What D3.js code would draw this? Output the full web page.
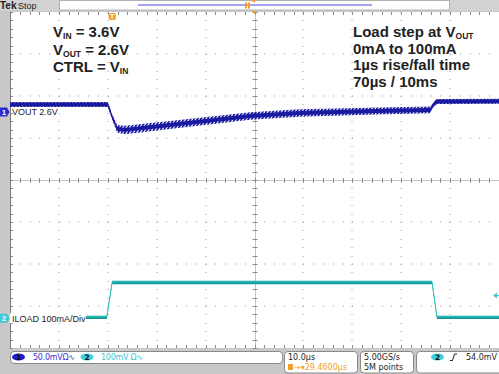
<!DOCTYPE html>
<html>
<head>
<meta charset="utf-8">
<script src="https://cdn.jsdelivr.net/npm/d3@7/dist/d3.min.js"></script>
<style>
  body { margin: 0; background: #c8c8c8; }
  svg { display: block; }
</style>
</head>
<body>
<div id="scope"></div>
<script>
// time base 10 us/div, 10 divisions
const timeDomain = [0, 100];
// vertical divisions
const divDomain = [-4, 4];

// CH1: VOUT, mV relative to the 2.6V marker (50 mV/div)
const voutTime   = [0, 20.0, 20.9, 21.9, 23.5, 32.7, 49.1, 59.3, 75.0, 85.9, 86.5, 87.3, 100];
const voutMean   = [8.9, 8.9, -6, -20, -21.4, -15.5, -4.8, -1.2, 1.2, 2.4, 8, 12.5, 12.8];
const voutRipple = [3.0, 3.0, 3.4, 4.6, 5.0, 4.8, 4.6, 4.4, 4.2, 4.0, 3.4, 3.0, 3.0];

// CH2: ILOAD, mA (100 mA/div)
const iloadTime = [0, 19.8, 20.9, 86.3, 87.3, 100];
const iloadMA   = [2, 2, 85, 85, 2, 2];

// channel marker positions (div) and trigger
const ch1Pos = 1.62;
const ch2Pos = -3.29;
const trigTime = 20.9;
const trigLevel = 54; // mV on ch2

const W = 499, H = 374;
const plot = {left: 10, right: 499, top: 12, bottom: 348};

const svg = d3.select("#scope").append("svg")
  .attr("width", W).attr("height", H)
  .style("font-family", "'Liberation Sans', Arial, sans-serif");

svg.append("rect").attr("width", W).attr("height", H).attr("fill", "#c8c8c8");
svg.append("rect")
  .attr("x", plot.left).attr("y", plot.top)
  .attr("width", plot.right - plot.left).attr("height", plot.bottom - plot.top)
  .attr("fill", "#fff");

const x = d3.scaleLinear().domain(timeDomain).range([plot.left, plot.right]);
const yDiv = d3.scaleLinear().domain(divDomain).range([plot.bottom, plot.top]);
const y1 = mv => yDiv(ch1Pos + mv / 50);
const y2 = ma => yDiv(ch2Pos + ma / 100);

// ---- graticule ----
const grid = svg.append("g");
const minorT = d3.range(0, 100.01, 2);
const minorD = d3.range(-4, 4.01, 0.2);

[10, 20, 30, 40, 60, 70, 80, 90].forEach(t => {
  grid.selectAll(null).data(minorD).enter().append("rect")
    .attr("x", Math.round(x(t)) - 0.5).attr("y", d => Math.round(yDiv(d)))
    .attr("width", 1).attr("height", 1).attr("fill", "#9a9a9a");
});
[-3, -2, -1, 1, 2, 3].forEach(d => {
  grid.selectAll(null).data(minorT).enter().append("rect")
    .attr("x", t => Math.round(x(t))).attr("y", Math.round(yDiv(d)) - 0.5)
    .attr("width", 1).attr("height", 1).attr("fill", "#9a9a9a");
});
// center cross
grid.append("line")
  .attr("x1", plot.left).attr("x2", plot.right)
  .attr("y1", Math.round(yDiv(0)) + 0.5).attr("y2", Math.round(yDiv(0)) + 0.5)
  .attr("stroke", "#c4c4c4");
grid.append("line")
  .attr("x1", Math.round(x(50)) + 0.5).attr("x2", Math.round(x(50)) + 0.5)
  .attr("y1", plot.top).attr("y2", plot.bottom)
  .attr("stroke", "#c4c4c4");
grid.selectAll(".ht").data(minorT).enter().append("line")
  .attr("x1", t => Math.round(x(t)) + 0.5).attr("x2", t => Math.round(x(t)) + 0.5)
  .attr("y1", yDiv(0) - 2).attr("y2", yDiv(0) + 3)
  .attr("stroke", "#8c8c8c");
grid.selectAll(".vt").data(minorD).enter().append("line")
  .attr("y1", d => Math.round(yDiv(d)) + 0.5).attr("y2", d => Math.round(yDiv(d)) + 0.5)
  .attr("x1", x(50) - 2).attr("x2", x(50) + 3)
  .attr("stroke", "#8c8c8c");
// edge ticks
grid.selectAll(".lt").data(minorD).enter().append("line")
  .attr("y1", d => Math.round(yDiv(d)) + 0.5).attr("y2", d => Math.round(yDiv(d)) + 0.5)
  .attr("x1", plot.left).attr("x2", plot.left + 3).attr("stroke", "#8c8c8c");
grid.selectAll(".bt").data(minorT).enter().append("line")
  .attr("x1", t => Math.round(x(t)) + 0.5).attr("x2", t => Math.round(x(t)) + 0.5)
  .attr("y1", plot.bottom - 3).attr("y2", plot.bottom).attr("stroke", "#8c8c8c");
grid.selectAll(".tt").data(minorT).enter().append("line")
  .attr("x1", t => Math.round(x(t)) + 0.5).attr("x2", t => Math.round(x(t)) + 0.5)
  .attr("y1", plot.top).attr("y2", plot.top + 3).attr("stroke", "#8c8c8c");
grid.append("line")
  .attr("x1", plot.left + 0.5).attr("x2", plot.left + 0.5)
  .attr("y1", plot.top).attr("y2", plot.bottom).attr("stroke", "#7a7a7a");

// ---- annotations ----
const note = svg.append("g").attr("font-weight", "bold").attr("font-size", 15).attr("fill", "#222");
function noteLine(xp, yp, parts) {
  const t = note.append("text").attr("x", xp).attr("y", yp);
  parts.forEach(p => {
    const s = t.append("tspan").text(p[0]);
    if (p[1]) s.attr("font-size", 8.5).attr("dy", 2);
    else if (p[2]) s.attr("dy", -2);
  });
}
noteLine(53, 37, [["V"], ["IN", 1], [" = 3.6V", 0, 1]]);
noteLine(53, 54.5, [["V"], ["OUT", 1], [" = 2.6V", 0, 1]]);
noteLine(53, 71.5, [["CTRL = V"], ["IN", 1]]);
noteLine(353, 37, [["Load step at V"], ["OUT", 1]]);
noteLine(353, 53.5, [["0mA to 100mA"]]);
noteLine(353, 70, [["1\u00b5s rise/fall time"]]);
noteLine(353, 86.5, [["70\u00b5s / 10ms"]]);

// ---- CH1 trace ----
const vout = voutTime.map((t, i) => ({t, m: voutMean[i], r: voutRipple[i]}));
const defs = svg.append("defs");
const pat = defs.append("pattern").attr("id", "ripple")
  .attr("patternUnits", "userSpaceOnUse").attr("width", 3.4).attr("height", 20)
  .attr("patternTransform", "skewX(-30)");
pat.append("rect").attr("width", 2.1).attr("height", 20).attr("fill", "#1a1aa0");

const bandArea = d3.area().x(d => x(d.t)).y0(d => y1(d.m - d.r)).y1(d => y1(d.m + d.r));
const coreArea = d3.area().x(d => x(d.t)).y0(d => y1(d.m - 2.3)).y1(d => y1(d.m + 2.3));
svg.append("path").datum(vout).attr("d", bandArea).attr("fill", "url(#ripple)");
svg.append("path").datum(vout).attr("d", coreArea).attr("fill", "#1a1aa0");

// ---- CH2 trace ----
const iload = iloadTime.map((t, i) => ({t, v: iloadMA[i]}));
svg.append("path").datum(iload)
  .attr("d", d3.area().x(d => x(d.t)).y0(d => y2(d.v - 4)).y1(d => y2(d.v + 4)))
  .attr("fill", "#169a9a");
svg.append("path").datum(iload)
  .attr("d", d3.line().x(d => x(d.t)).y(d => y2(d.v + 1.5)))
  .attr("fill", "none").attr("stroke", "#2cc4c4").attr("stroke-width", 1);

// ---- channel labels ----
const lab = svg.append("g").attr("font-size", 9).attr("fill", "#1e1e1e");
const y1Mark = yDiv(ch1Pos), y2Mark = yDiv(ch2Pos);
lab.append("rect").attr("x", 10).attr("y", y2Mark - 5).attr("width", 76).attr("height", 10).attr("fill", "#fff");
lab.append("text").attr("x", 12).attr("y", y1Mark + 3.5).text("VOUT 2.6V");
lab.append("text").attr("x", 12).attr("y", y2Mark + 3.5).text("ILOAD 100mA/Div");

function chMarker(yc, color, label) {
  svg.append("path")
    .attr("d", `M0,${yc - 4.5}H7L9.5,${yc}L7,${yc + 4.5}H0Z`)
    .attr("fill", color);
  svg.append("text").attr("x", 4).attr("y", yc + 3).attr("text-anchor", "middle")
    .attr("font-size", 8).attr("font-weight", "bold").attr("fill", "#fff").text(label);
}
chMarker(y1Mark, "#2b2bd0", "1");
chMarker(y2Mark, "#3cc8d8", "2");

// trigger level on ch2
const yTrig = y2(trigLevel);
svg.append("path")
  .attr("d", `M${plot.right - 6},${yTrig}L${plot.right - 2},${yTrig - 3}V${yTrig + 3}Z M${plot.right - 3},${yTrig - 0.6}H${plot.right}V${yTrig + 0.6}H${plot.right - 3}Z`)
  .attr("fill", "#3cc8d8");

// trigger position marker
const xTrig = x(trigTime);
svg.append("rect").attr("x", xTrig - 3.5).attr("y", 13).attr("width", 7).attr("height", 7)
  .attr("rx", 1.5).attr("fill", "#f0a028");
svg.append("text").attr("x", xTrig).attr("y", 19).attr("text-anchor", "middle")
  .attr("font-size", 7).attr("font-weight", "bold").attr("fill", "#fff").text("T");
// expansion point
svg.append("path").attr("d", `M${x(50) - 3},${plot.top - 2}H${x(50) + 3}L${x(50)},${plot.top + 2}Z`)
  .attr("fill", "#f0a028");

// ---- top bar ----
svg.append("rect").attr("x", 0).attr("y", 0).attr("width", W).attr("height", plot.top - 1).attr("fill", "#d2d2d2");
svg.append("rect").attr("x", 59.5).attr("y", 0.5).attr("width", 390).attr("height", 9.5)
  .attr("fill", "#fff").attr("stroke", "#b0b0b0");
svg.append("rect").attr("x", 138).attr("y", 4).attr("width", 234).attr("height", 2).attr("fill", "#a4a4ee");
svg.append("rect").attr("x", 245).attr("y", 2.5).attr("width", 2).attr("height", 6).attr("fill", "#f0a028");
svg.append("rect").attr("x", 248).attr("y", 2.5).attr("width", 2).attr("height", 6).attr("fill", "#f0a028");
svg.append("path").attr("d", "M251.5,0H256.5L254,3Z").attr("fill", "#f0a028");
svg.append("text").attr("x", 0).attr("y", 9).attr("font-size", 10).attr("font-weight", "bold")
  .attr("fill", "#1e1e1e").text("Tek");
svg.append("text").attr("x", 18).attr("y", 9).attr("font-size", 9).attr("fill", "#1e1e1e").text("Stop");

// ---- status bar ----
const st = svg.append("g").style("font-family", "'DejaVu Sans', sans-serif").attr("font-size", 8);
function box(x0, y0, w, h) {
  st.append("rect").attr("x", x0 + 0.5).attr("y", y0 + 0.5).attr("width", w).attr("height", h)
    .attr("rx", 3.5).attr("fill", "#fff").attr("stroke", "#8a8a8a");
}
box(10, 351, 272, 12);
box(284, 351, 73, 21.5);
box(360, 351, 53, 21.5);
box(416, 351, 90, 21.5);

function oval(cx, cy, color, label) {
  st.append("ellipse").attr("cx", cx).attr("cy", cy).attr("rx", 6.5).attr("ry", 3.6).attr("fill", color);
  st.append("text").attr("x", cx).attr("y", cy + 3).attr("text-anchor", "middle")
    .attr("font-size", 7.5).attr("font-weight", "bold").attr("fill", "#101010").text(label);
}
oval(18.5, 357, "#1c1cd0", "1");
st.append("text").attr("x", 33).attr("y", 360).attr("fill", "#3434d4")
  .attr("textLength", 42).text("50.0mV\u03a9\u223f");
oval(87, 357, "#3cd0e0", "2");
st.append("text").attr("x", 101).attr("y", 360).attr("fill", "#3cc4d8")
  .attr("textLength", 42).text("100mV \u03a9\u223f");

st.append("text").attr("x", 288).attr("y", 360).attr("fill", "#1e1e1e").text("10.0\u00b5s");
st.append("rect").attr("x", 288).attr("y", 364).attr("width", 5).attr("height", 6).attr("fill", "#f0a028");
st.append("text").attr("x", 294).attr("y", 370).attr("fill", "#f0a028").text("\u2192\u25be29.4600\u00b5s");
st.append("text").attr("x", 364).attr("y", 360).attr("fill", "#1e1e1e").text("5.00GS/s");
st.append("text").attr("x", 364).attr("y", 370).attr("fill", "#1e1e1e").text("5M points");
oval(437.5, 357, "#3cd0e0", "2");
st.append("path").attr("d", "M450,360.5H452.5L454.5,354H457").attr("fill", "none").attr("stroke", "#1e1e1e");
st.append("text").attr("x", 466).attr("y", 360).attr("fill", "#1e1e1e").text("54.0mV");
</script>
</body>
</html>
